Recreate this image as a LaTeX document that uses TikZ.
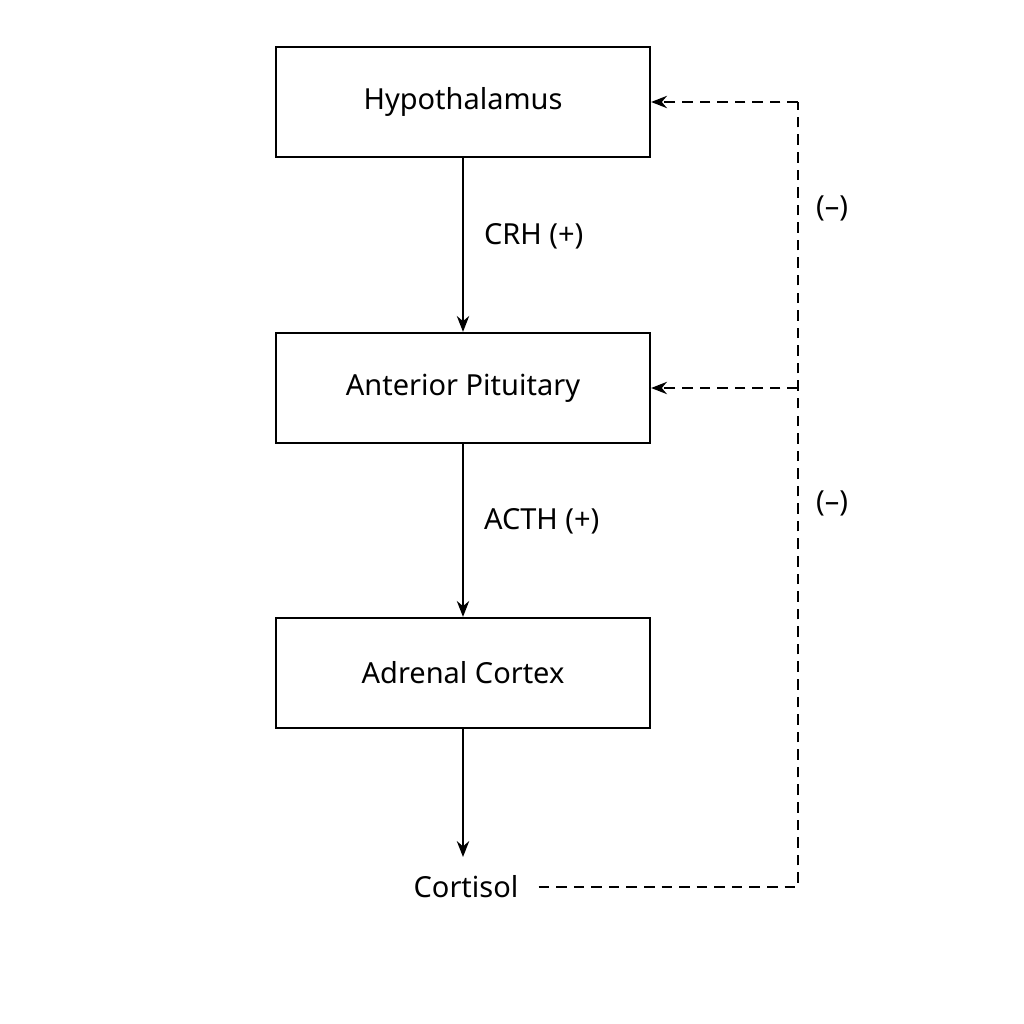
\documentclass[tikz,border=0pt]{standalone}
\usepackage{fontspec}
\setmainfont{Noto Sans}
\usetikzlibrary{arrows.meta}
\begin{document}
\begin{tikzpicture}[x=0.02cm,y=-0.02cm,
  box/.style={draw,line width=1.3pt,minimum width=374*0.02cm,minimum height=110*0.02cm,font=\fontsize{16.5}{18}\selectfont},
  lbl/.style={font=\fontsize{16.5}{18}\selectfont},
  arr/.style={line width=1.3pt,-{Stealth[length=9pt,width=7pt]}},
  fb/.style={line width=1.3pt,dashed,dash pattern=on 6pt off 4pt}]
\fill[white] (0,0) rectangle (1024,1024);
\node[box] (h) at (463,102) {Hypothalamus};
\node[box] (p) at (463,388) {Anterior Pituitary};
\node[box] (a) at (463,673) {Adrenal Cortex};
\node[lbl] (c) at (466,887) {Cortisol};
\coordinate (ce) at (463,857);
\draw[arr] (h.south) -- node[lbl,right=8pt,yshift=5pt]{CRH (+)} (p.north);
\draw[arr] (p.south) -- node[lbl,right=8pt,yshift=5pt]{ACTH (+)} (a.north);
\draw[arr] (a.south) -- (ce);
\coordinate (c1) at (798,887);
\coordinate (c2) at (798,388);
\coordinate (c3) at (798,102);
\draw[fb] ([xshift=8pt]c.east) -- (c1) -- (c3);
\draw[fb,-{Stealth[length=9pt,width=7pt]}] (c3) -- (h.east);
\draw[fb,-{Stealth[length=9pt,width=7pt]}] (c2) -- (p.east);
\node[lbl] (m1) at (832,208) {(–)};
\node[lbl] (m2) at (832,503) {(–)};
\end{tikzpicture}
\end{document}
